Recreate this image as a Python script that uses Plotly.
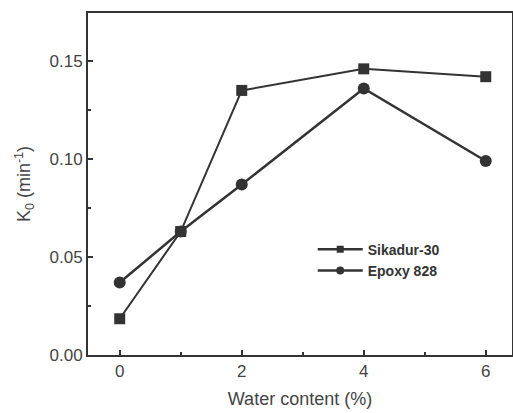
import plotly.graph_objects as go

water = [0, 1, 2, 4, 6]
sikadur = [0.0185, 0.063, 0.135, 0.146, 0.142]
epoxy = [0.037, 0.063, 0.087, 0.136, 0.099]
xticks = [0, 2, 4, 6]
yticks = [0.00, 0.05, 0.10, 0.15]
ytick_text = ["0.00", "0.05", "0.10", "0.15"]

col = "#333333"
font_fam = "Liberation Sans, Arial"
fig = go.Figure()
fig.add_trace(go.Scatter(x=water, y=sikadur, mode="lines+markers", name="Sikadur-30",
                         line=dict(color=col, width=2),
                         marker=dict(symbol="square", size=11, color=col), showlegend=False))
fig.add_trace(go.Scatter(x=water, y=epoxy, mode="lines+markers", name="Epoxy 828",
                         line=dict(color=col, width=2.5),
                         marker=dict(symbol="circle", size=12, color=col), showlegend=False))
# legend entries
fig.add_trace(go.Scatter(x=[None], y=[None], mode="lines+markers", name="Sikadur-30",
                         line=dict(color=col, width=2.5),
                         marker=dict(symbol="square", size=7, color=col)))
fig.add_trace(go.Scatter(x=[None], y=[None], mode="lines+markers", name="Epoxy 828",
                         line=dict(color=col, width=2.5),
                         marker=dict(symbol="circle", size=8, color=col)))

axis_common = dict(showline=True, linecolor="#333333", linewidth=2, mirror=True,
                   ticks="inside", tickcolor="#333333", tickwidth=2, ticklen=5,
                   showgrid=False, zeroline=False,
                   tickfont=dict(family=font_fam, size=17, color="#444444"))
fig.update_xaxes(range=[-0.52, 6.43], tickvals=xticks,
                 minor=dict(tickvals=[1, 3, 5], ticks="inside", ticklen=3, tickwidth=2, tickcolor="#333333"),
                 title=dict(text="Water content (%)", font=dict(family=font_fam, size=18, color="#444444"), standoff=12),
                 **axis_common)
fig.update_yaxes(range=[0, 0.1745], tickvals=yticks, ticktext=ytick_text,
                 minor=dict(tickvals=[0.025, 0.075, 0.125], ticks="inside", ticklen=3, tickwidth=2, tickcolor="#333333"),
                 title=dict(text="K<sub>0</sub> (min<sup>-1</sup>)", font=dict(family=font_fam, size=18, color="#444444"), standoff=14),
                 **axis_common)
fig.update_layout(width=513, height=413, margin=dict(l=88, r=1, t=13, b=58, autoexpand=False),
                  paper_bgcolor="white", plot_bgcolor="white",
                  legend=dict(x=0.53, y=0.355, xanchor="left", yanchor="top",
                              font=dict(family=font_fam, size=14, color="#333333", weight="bold"),
                              bgcolor="rgba(0,0,0,0)", tracegroupgap=0, itemwidth=45),
                  showlegend=True)
fig.write_html("out.html", config={"displayModeBar": False},
               post_script="document.body.style.margin='0';document.body.style.overflow='hidden';")
